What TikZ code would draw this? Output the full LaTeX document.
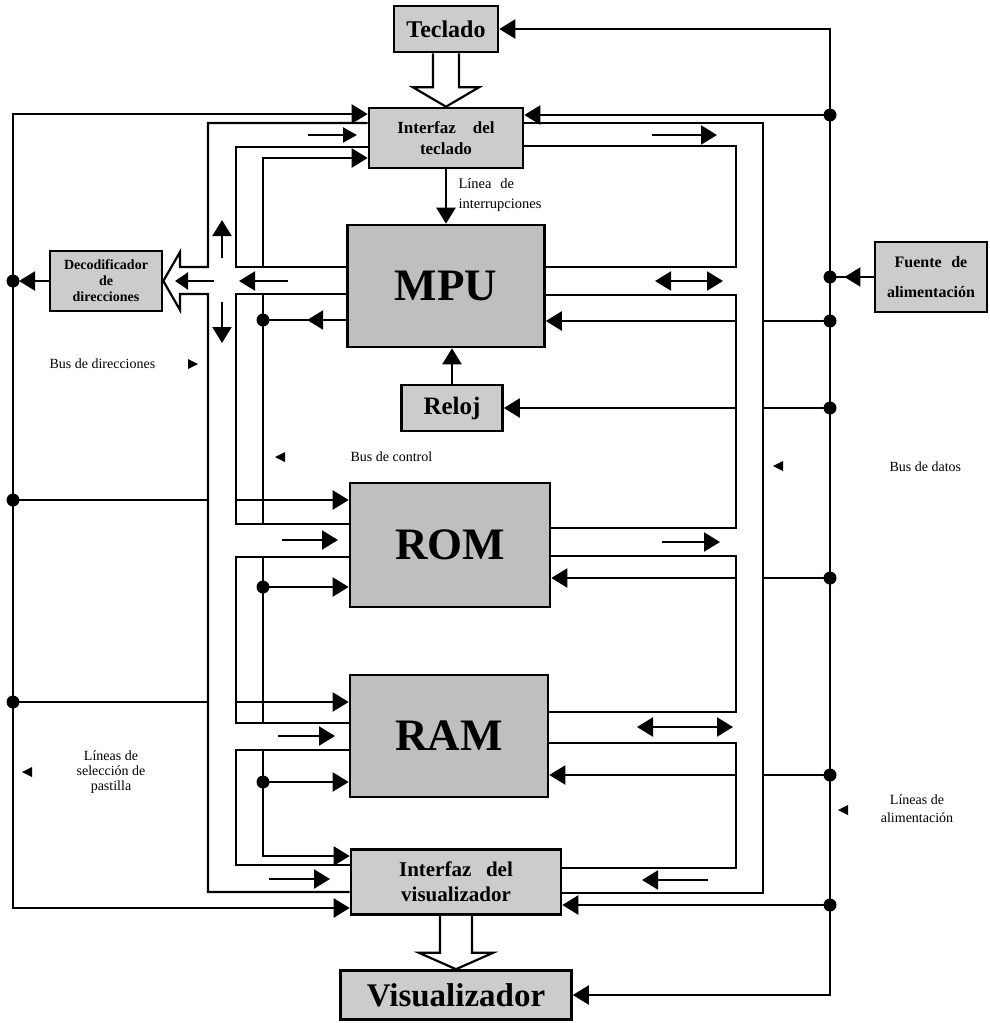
\documentclass[tikz,border=0pt]{standalone}
\usepackage{fontspec}
\setmainfont{Liberation Serif}
\usetikzlibrary{arrows.meta,calc,decorations.markings}
\begin{document}
\begin{tikzpicture}[x=1pt,y=-1pt,
  >={Triangle[length=16pt,width=19pt]},
  ln/.style={line width=2.2pt,line join=miter},
  arr/.style={ln,->},
  darr/.style={ln,<->},
  box/.style={draw,line width=2.6pt,fill=black!20,inner sep=0pt,align=center},
  big/.style={box,fill=black!25,font=\bfseries\fontsize{45}{45}\selectfont},
  lbl/.style={font=\fontsize{14}{15}\selectfont},
  midarrow/.style={postaction={decorate},decoration={markings,mark=at position #1 with {\arrow{>}}}},
]
\useasboundingbox (0,0) rectangle (990,1023);

% bus x positions
\coordinate (cs) at (13,0);
\coordinate (al) at (208,0);
\coordinate (ar) at (236,0);
\coordinate (ctl) at (263,0);
\coordinate (dr) at (736,0);
\coordinate (do) at (763,0);
\coordinate (pw) at (830,0);

% boxes
\node[box,minimum width=104pt,minimum height=46pt,font=\bfseries\fontsize{24}{24}\selectfont] (tec) at (446,29) {Teclado};
\node[box,minimum width=154pt,minimum height=60pt,font=\bfseries\fontsize{17}{21}\selectfont] (itec) at (446,138) {Interfaz\hspace{1em}del\\teclado};
\node[big,minimum width=197pt,minimum height=122pt] (mpu) at (446,286) {MPU};
\node[box,minimum width=101pt,minimum height=46pt,font=\bfseries\fontsize{25}{25}\selectfont] (reloj) at (452,408) {Reloj};
\node[big,minimum width=200pt,minimum height=124pt] (rom) at (450,545) {ROM};
\node[big,minimum width=198pt,minimum height=122pt] (ram) at (449,736) {RAM};
\node[box,minimum width=210pt,minimum height=65pt,font=\bfseries\fontsize{21}{25}\selectfont] (ivis) at (456,882) {Interfaz\hspace{0.7em}del\\visualizador};
\node[box,minimum width=231pt,minimum height=49pt,font=\bfseries\fontsize{33}{33}\selectfont] (vis) at (456,995) {Visualizador};
\node[box,minimum width=112pt,minimum height=60pt,font=\bfseries\fontsize{14}{16}\selectfont] (deco) at (106,281) {Decodificador\\de\\direcciones};
\node[box,minimum width=112pt,minimum height=70pt,font=\bfseries\fontsize{16}{30}\selectfont] (fuente) at (931,277) {Fuente\hspace{0.6em}de\\alimentación};

% hollow arrows
\draw[ln,fill=white] ($(tec.south)+(-13,0)$) -- ++(0,34) -- ++(-20,0) -- (itec.north) -- ($(tec.south)+(33,34)$) -- ++(-20,0) -- ($(tec.south)+(13,0)$);
\draw[ln,fill=white] ($(ivis.south)+(-16,0)$) -- ++(0,37) -- ++(-21,0) -- (vis.north) -- ($(ivis.south)+(37,37)$) -- ++(-21,0) -- ($(ivis.south)+(16,0)$);

% address bus lane
\draw[ln] (itec.west |- 0,123) -- (al |- 0,123) -- (al |- 0,267) -- (180,267) -- (180,252) -- (deco.east) -- (180,310) -- (180,294) -- (al |- 0,294) -- (al |- 0,892) -- (ivis.west |- 0,892);
\draw[ln] (itec.west |- 0,147) -- (ar |- 0,147) -- (ar |- 0,267) -- (mpu.west |- 0,267);
\draw[ln] (mpu.west |- 0,294) -- (ar |- 0,294) -- (ar |- 0,524) -- (rom.west |- 0,524);
\draw[ln] (rom.west |- 0,557) -- (ar |- 0,557) -- (ar |- 0,723) -- (ram.west |- 0,723);
\draw[ln] (ram.west |- 0,750) -- (ar |- 0,750) -- (ar |- 0,865) -- (ivis.west |- 0,865);
\draw[ln,-{Triangle[length=14pt,width=15pt]}] (308,135) -- (357,135);
\draw[arr] (282,540) -- (338,540);
\draw[arr] (278,736) -- (335,736);
\draw[arr] (269,879) -- (330,879);
\draw[arr] (222,258) -- (222,220);
\draw[arr] (222,302) -- (222,343);
\draw[arr] (288,281) -- (239,281);
\draw[ln,-{Triangle[length=13pt,width=17pt]}] (214,281) -- (175,281);

% data bus lane
\draw[ln] (itec.east |- 0,123) -- (do |- 0,123) -- (do |- 0,893) -- (ivis.east |- 0,893);
\draw[ln] (itec.east |- 0,146) -- (dr |- 0,146) -- (dr |- 0,267) -- (mpu.east |- 0,267);
\draw[ln] (mpu.east |- 0,295) -- (dr |- 0,295) -- (dr |- 0,528) -- (rom.east |- 0,528);
\draw[ln] (rom.east |- 0,556) -- (dr |- 0,556) -- (dr |- 0,712) -- (ram.east |- 0,712);
\draw[ln] (ram.east |- 0,743) -- (dr |- 0,743) -- (dr |- 0,868) -- (ivis.east |- 0,868);
\draw[arr] (652,135) -- (717,135);
\draw[darr] (655,281) -- (723,281);
\draw[arr] (662,542) -- (720,542);
\draw[darr] (637,727) -- (733,727);
\draw[arr] (708,880) -- (642,880);

% control bus
\draw[arr] (ctl |- 0,267) -- (ctl |- 0,158) -- (itec.west |- 0,158);
\draw[ln] (ctl |- 0,294) -- (ctl |- 0,524);
\draw[ln] (ctl |- 0,557) -- (ctl |- 0,723);
\draw[arr] (ctl |- 0,750) -- (ctl |- 0,856) -- (ivis.west |- 0,856);
\draw[ln,midarrow=0.47] (mpu.west |- 0,320) -- (ctl |- 0,320);
\draw[arr] (ctl |- 0,587) -- (rom.west |- 0,587);
\draw[arr] (ctl |- 0,782) -- (ram.west |- 0,782);
\foreach \y in {320,587,782} \fill (263,\y) circle (6.5pt);

% chip select lines
\draw[darr] (itec.west |- 0,114) -- (cs |- 0,114) -- (cs |- 0,908) -- (ivis.west |- 0,908);
\draw[ln] (cs |- 0,500) -- (al |- 0,500);
\draw[arr] (ar |- 0,500) -- (rom.west |- 0,500);
\draw[ln] (cs |- 0,702) -- (al |- 0,702);
\draw[arr] (ar |- 0,702) -- (ram.west |- 0,702);
\draw[arr,shorten >=6pt] (deco.west) -- (cs |- deco.west);
\foreach \y in {281,500,702} \fill (13,\y) circle (6.5pt);

% interrupt and clock
\draw[arr] (itec.south) -- (itec.south |- mpu.north);
\draw[arr] (reloj.north) -- (reloj.north |- mpu.south);

% power lines
\draw[darr] (tec.east) -- (pw |- tec.east) -- (pw |- vis.east) -- (vis.east);
\draw[ln,midarrow=0.67] (fuente.west) -- (pw |- fuente.west);
\draw[arr] (pw |- 0,115) -- (itec.east |- 0,115);
\draw[ln] (pw |- 0,321) -- (do |- 0,321);
\draw[arr] (dr |- 0,321) -- (mpu.east |- 0,321);
\draw[ln] (pw |- reloj.east) -- (do |- reloj.east);
\draw[arr] (dr |- reloj.east) -- (reloj.east);
\draw[ln] (pw |- 0,578) -- (do |- 0,578);
\draw[arr] (dr |- 0,578) -- (rom.east |- 0,578);
\draw[ln] (pw |- 0,775) -- (do |- 0,775);
\draw[arr] (dr |- 0,775) -- (ram.east |- 0,775);
\draw[arr] (pw |- 0,905) -- (ivis.east |- 0,905);
\foreach \y in {115,277,321,408,578,775,905} \fill (830,\y) circle (6.5pt);

% labels
\node[lbl,anchor=north west,align=left,font=\fontsize{14.5}{20}\selectfont] (lbint) at (455,175) {Línea\hspace{0.6em}de\\interrupciones};
\node[lbl,anchor=west] (lbdir) at (46,364) {Bus de direcciones};
\node[lbl,anchor=west] (lbctl) at (347,457) {Bus de control};
\node[lbl,anchor=west] (lbdat) at (886,467) {Bus de datos};
\node[lbl,align=center] (lbsel) at (111,772) {Líneas de\\selección de\\pastilla};
\node[lbl,align=center,font=\fontsize{14}{18}\selectfont] (lbali) at (917,809) {Líneas de\\alimentación};
\fill (198,364) -- (188,359) -- (188,369) -- cycle;
\fill (275,457) -- (285,452) -- (285,462) -- cycle;
\fill (773,466) -- (783,461) -- (783,471) -- cycle;
\fill (22,772) -- (32,767) -- (32,777) -- cycle;
\fill (838,810) -- (848,805) -- (848,815) -- cycle;
\end{tikzpicture}
\end{document}
